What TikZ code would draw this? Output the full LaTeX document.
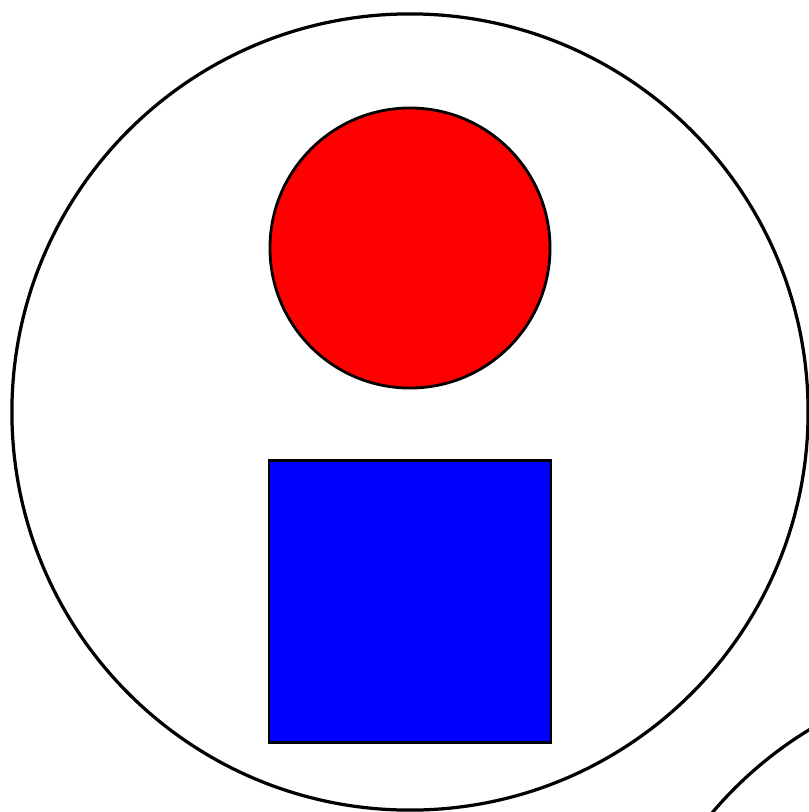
\documentclass[tikz,border=0pt]{standalone}
\usetikzlibrary{positioning}

\begin{document}
\begin{tikzpicture}[
  x=0.025cm, y=-0.025cm,
  ring/.style={circle, draw, line width=2.3pt, minimum size=19.9cm, inner sep=0pt},
  ball/.style={circle, draw, fill=red, line width=2pt, minimum size=7cm, inner sep=0pt},
  block/.style={rectangle, draw, fill=blue, line width=2pt, minimum size=7.05cm, inner sep=0pt}
]
\useasboundingbox (0,0) rectangle (809,812);
\clip (0,0) rectangle (809,812);
\node[ring] (outer) at (410,412) {};
\node[ring] (next) at (1016,1070) {};
\node[ball] (top) at (410,248) {};
\node[block] (bottom) at (410,601.5) {};
\end{tikzpicture}
\end{document}
